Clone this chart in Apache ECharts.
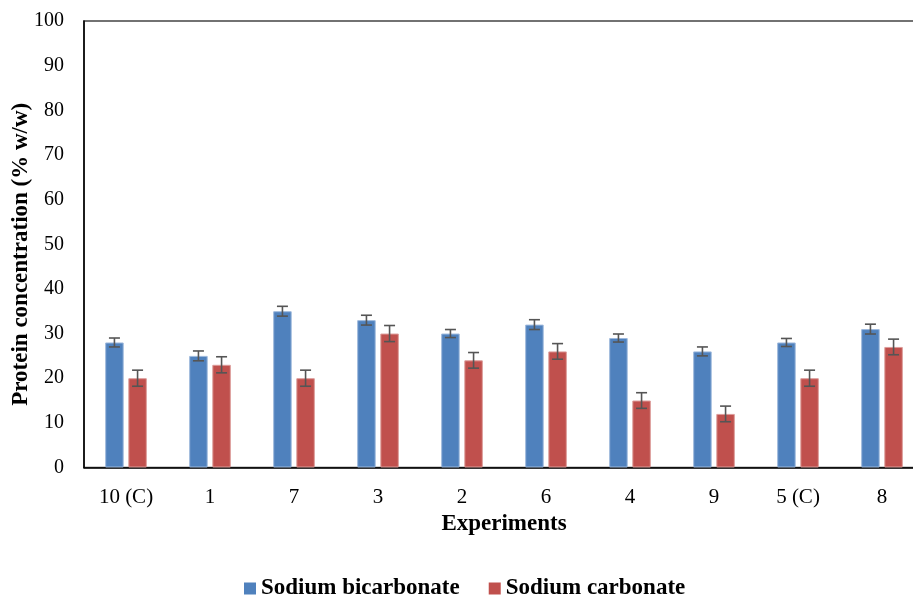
<!DOCTYPE html>
<html>
<head>
<meta charset="utf-8">
<script src="https://cdn.jsdelivr.net/npm/echarts@6/dist/echarts.min.js"></script>
<style>
  html, body { margin: 0; padding: 0; background: #fff; }
  #chart { width: 913px; height: 599px; }
</style>
</head>
<body>
<div id="chart"></div>
<script>
// Protein concentration by experiment, two extraction agents
const experiments = ['10 (C)', '1', '7', '3', '2', '6', '4', '9', '5 (C)', '8'];
const bicarbonate = [28, 25, 35, 33, 30, 32, 29, 26, 28, 31];
const carbonate   = [20, 23, 20, 30, 24, 26, 15, 12, 20, 27];
const bicarbonateErr = [1.0, 1.1, 1.1, 1.1, 0.9, 1.1, 0.9, 1.0, 0.9, 1.1];
const carbonateErr   = [1.8, 1.8, 1.8, 1.8, 1.75, 1.75, 1.75, 1.75, 1.8, 1.75];
const yTicks = [0, 10, 20, 30, 40, 50, 60, 70, 80, 90, 100];

const BAR_W = 18.5;
const BAR_GAP = 0.25;
const SHIFT = (BAR_W + BAR_W * BAR_GAP) / 2;

function errorItem(values, errs, shift) {
  return function (params, api) {
    const i = api.value(0);
    const v = values[i];
    const e = errs[i];
    const top = api.coord([i, v + e]);
    const bot = api.coord([i, v - e]);
    const x = top[0] + shift;
    const cap = 5.5;
    const style = { stroke: '#555', lineWidth: 1.6 };
    return {
      type: 'group',
      children: [
        { type: 'line', shape: { x1: x, y1: top[1], x2: x, y2: bot[1] }, style },
        { type: 'line', shape: { x1: x - cap, y1: top[1], x2: x + cap, y2: top[1] }, style },
        { type: 'line', shape: { x1: x - cap, y1: bot[1], x2: x + cap, y2: bot[1] }, style }
      ]
    };
  };
}

const chart = echarts.init(document.getElementById('chart'), null, { renderer: 'canvas' });
const serif = '"Liberation Serif", "Times New Roman", serif';

chart.setOption({
  animation: false,
  backgroundColor: '#fff',
  grid: {
    left: 84, top: 21, width: 840, height: 446.5,
    containLabel: false,
    outerBoundsMode: 'none',
    show: true, borderColor: '#444', borderWidth: 1.5, backgroundColor: 'transparent'
  },
  legend: {
    left: 239, top: 572,
    itemWidth: 12, itemHeight: 12, itemGap: 29,
    icon: 'rect',
    itemStyle: { borderWidth: 0 },
    textStyle: { fontFamily: serif, fontWeight: 'bold', fontSize: 23, color: '#000' },
    data: ['Sodium bicarbonate', 'Sodium carbonate']
  },
  xAxis: {
    type: 'category',
    data: experiments,
    name: 'Experiments',
    nameLocation: 'middle',
    nameGap: 39,
    nameTextStyle: { fontFamily: serif, fontWeight: 'bold', fontSize: 23, color: '#000' },
    axisLine: { lineStyle: { color: '#000', width: 1.5 } },
    axisTick: { show: false },
    axisLabel: { fontFamily: serif, fontSize: 21, color: '#000', margin: 19 }
  },
  yAxis: {
    type: 'value',
    min: 0, max: 100, interval: 10,
    name: 'Protein concentration (% w/w)',
    nameLocation: 'middle',
    nameGap: 51,
    nameMoveOverlap: false,
    nameTextStyle: {
      fontFamily: serif, fontWeight: 'bold', fontSize: 23, color: '#000',
      padding: [0, 20, 0, 0]
    },
    axisLine: { show: true, lineStyle: { color: '#000', width: 1.5 } },
    axisTick: { show: false },
    splitLine: { show: false },
    axisLabel: {
      fontFamily: serif, fontSize: 20, color: '#000', margin: 20,
      formatter: v => (yTicks.includes(v) ? String(v) : '')
    }
  },
  series: [
    {
      name: 'Sodium bicarbonate',
      type: 'bar',
      data: bicarbonate,
      barWidth: BAR_W,
      barGap: (BAR_GAP * 100) + '%',
      itemStyle: { color: '#4F81BD', borderColor: '#9db8dc', borderWidth: 1 }
    },
    {
      name: 'Sodium carbonate',
      type: 'bar',
      data: carbonate,
      barWidth: BAR_W,
      barGap: (BAR_GAP * 100) + '%',
      itemStyle: { color: '#C0504D', borderColor: '#dc9c9a', borderWidth: 1 }
    },
    {
      type: 'custom',
      name: 'bicarbonate error',
      renderItem: errorItem(bicarbonate, bicarbonateErr, -SHIFT),
      data: experiments.map((_, i) => [i]),
      z: 10,
      silent: true
    },
    {
      type: 'custom',
      name: 'carbonate error',
      renderItem: errorItem(carbonate, carbonateErr, SHIFT),
      data: experiments.map((_, i) => [i]),
      z: 10,
      silent: true
    }
  ]
});
</script>
</body>
</html>
